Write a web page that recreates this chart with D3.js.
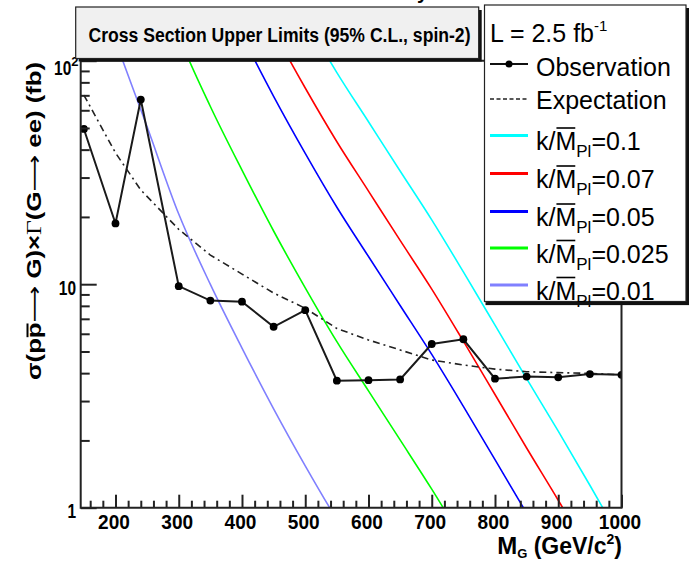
<!DOCTYPE html>
<html><head><meta charset="utf-8">
<script src="https://cdn.jsdelivr.net/npm/d3@7"></script>
<style>
body{margin:0;background:#fff}
svg{display:block;font-family:"Liberation Sans",Arial,sans-serif}
</style>
</head><body>
<svg id="c" width="693" height="562"></svg>
<script>
// ---------------- data ----------------
const obsMass = [150,200,240,300,350,400,450,500,550,600,650,700,750,800,850,900,950,1000];
const obsLimit = [49.5,18.7,67,9.8,8.45,8.35,6.45,7.65,3.70,3.72,3.75,5.40,5.67,3.78,3.86,3.83,3.96,3.93];
const expLimit = [70.2,38.7,26.4,17.6,13.5,11.1,9.13,7.8,6.34,5.63,5.08,4.58,4.35,4.17,4.06,4.02,3.99,3.93];

const thMass = [150,200,250,300,350,400,450,500,550,600,650,700,750,800,850,900,950,1000];
const sigK0100 = [31600,12300,5060,2060,998,518,277,154,88.5,53.3,32.1,19.4,11.35,6.56,3.78,2.20,1.26,0.713];
const sigK0070 = [15500,6030,2480,1010,489,254,136,75.5,43.4,26.1,15.7,9.51,5.56,3.21,1.85,1.08,0.617,0.349];
const sigK0050 = [7900,3080,1265,515,250,130,69.3,38.5,22.1,13.3,8.03,4.85,2.84,1.64,0.945,0.55,0.315,0.178];
const sigK0025 = [1975,769,316,129,62.4,32.4,17.3,9.63,5.53,3.33,2.01,1.21,0.709,0.41,0.236,0.1375,0.079,0.0446];
const sigK0010 = [316,123,50.6,20.6,9.98,5.18,2.77,1.54,0.885,0.533,0.321,0.194,0.1135,0.0656,0.0378,0.022,0.0126,0.00713];
const couplings = ["0.1","0.07","0.05","0.025","0.01"];
const theorySeries = [sigK0100,sigK0070,sigK0050,sigK0025,sigK0010];

const xTicks = [200,300,400,500,600,700,800,900,1000];
const xMinorTicks = [160,180,220,240,260,280,320,340,360,380,420,440,460,480,520,540,560,580,620,640,660,680,720,740,760,780,820,840,860,880,920,940,960,980];
const yTicks = [1,10,100];
const yTickLabels = ["1","10","10"];
const yTickSup = ["","","2"];
const yMinorTicks = [2,3,4,5,6,7,8,9,20,30,40,50,60,70,80,90];

const titleText = "Cross Section Upper Limits (95% C.L., spin-2)";
const lumiText = "L = 2.5 fb";

// ---------------- styles ----------------
const theoryColors = ["#00ffff","#ff0000","#0000ff","#00ff00","#8080ff"];
const X0 = 80.7, X1 = 621.5, YT = 60.7, YB = 507.7;

const svg = d3.select("#c");
svg.append("rect").attr("width",693).attr("height",562).attr("fill","#fff");

const x = d3.scaleLinear().domain([145,1000]).range([X0,X1]);
const y = d3.scaleLog().domain([1,100]).range([YB,YT]);

// remnant of a hidden title (as in the reference)
svg.append("text").attr("x",417).attr("y",-1).attr("font-weight","bold").attr("font-size",20).text("y");

svg.append("clipPath").attr("id","clip").append("rect")
  .attr("x",X0).attr("y",YT).attr("width",X1-X0).attr("height",YB-YT);
const plot = svg.append("g").attr("clip-path","url(#clip)");

// theory curves
const thLine = d3.line().x(d=>x(d[0])).y(d=>y(d[1])).curve(d3.curveMonotoneX);
theorySeries.forEach((s,i)=>{
  plot.append("path").datum(thMass.map((m,j)=>[m,s[j]]))
    .attr("d",thLine).attr("fill","none").attr("stroke",theoryColors[i]).attr("stroke-width",1.6);
});

// expectation
const pLine = d3.line().x(d=>x(d[0])).y(d=>y(d[1]));
plot.append("path").datum(obsMass.map((m,j)=>[m,expLimit[j]]))
  .attr("d",pLine).attr("fill","none").attr("stroke","#222").attr("stroke-width",1.6)
  .attr("stroke-dasharray","7,4,2,4");

// observation
const obs = obsMass.map((m,j)=>[m,obsLimit[j]]);
plot.append("path").datum(obs).attr("d",pLine).attr("fill","none")
  .attr("stroke","#1a1a1a").attr("stroke-width",2);
plot.selectAll("circle.obs").data(obs).join("circle").attr("class","obs")
  .attr("cx",d=>x(d[0])).attr("cy",d=>y(d[1])).attr("r",3.9).attr("fill","#000");

// axes
const axStyle = g=>{ g.select(".domain").remove(); g.selectAll(".tick line").attr("stroke","#222").attr("stroke-width",2); };
svg.append("g").attr("transform",`translate(0,${YB})`)
  .call(d3.axisBottom(x).tickValues(xMinorTicks).tickSize(-7).tickFormat("")).call(axStyle);
const xg = svg.append("g").attr("transform",`translate(0,${YB})`)
  .call(d3.axisBottom(x).tickValues(xTicks).tickSize(-13).tickPadding(6).tickFormat(d3.format("d"))).call(axStyle);
xg.selectAll(".tick text").attr("font-family","Liberation Sans, Arial, sans-serif")
  .attr("font-size",21).attr("font-weight","bold").attr("fill","#000")
  .attr("dx",-2)
  .attr("textLength",d=>String(d).length*10.6).attr("lengthAdjust","spacingAndGlyphs");

svg.append("g").attr("transform",`translate(${X0},0)`)
  .call(d3.axisLeft(y).tickValues(yMinorTicks).tickSize(-9).tickFormat("")).call(axStyle);
svg.append("g").attr("transform",`translate(${X0},0)`)
  .call(d3.axisLeft(y).tickValues(yTicks).tickSize(-16).tickFormat("")).call(axStyle);

// y tick labels
yTicks.forEach((v,i)=>{
  const t = svg.append("text").attr("text-anchor","end")
    .attr("x", yTickSup[i] ? 78.5 : 76).attr("y", y(v) + (yTickSup[i] ? 14 : 10.7))
    .attr("font-size",21).attr("font-weight","bold");
  t.append("tspan").text(yTickLabels[i])
    .attr("textLength",yTickLabels[i].length*8.6).attr("lengthAdjust","spacingAndGlyphs");
  if (yTickSup[i]) t.append("tspan").attr("font-size",13).attr("dy",-9).text(yTickSup[i]);
});

// frame
svg.append("path").attr("d",`M${X0},${YT}V${YB}H${X1}V${YT}Z`)
  .attr("fill","none").attr("stroke","#222").attr("stroke-width",2);

// axis titles
const yl = svg.append("g").attr("transform","translate(41,221) rotate(-90)");
const ylt = yl.append("text").attr("text-anchor","middle").attr("font-size",20).attr("font-weight","bold")
  .attr("textLength",318).attr("lengthAdjust","spacingAndGlyphs");
ylt.append("tspan").text("σ(pp");
ylt.append("tspan").attr("font-family","DejaVu Sans, sans-serif").attr("font-weight","normal").text("⟶");
ylt.append("tspan").text(" G)×");
ylt.append("tspan").attr("font-family","Liberation Serif, serif").attr("font-weight","normal").text("Γ");
ylt.append("tspan").text("(G");
ylt.append("tspan").attr("font-family","DejaVu Sans, sans-serif").attr("font-weight","normal").text("⟶");
ylt.append("tspan").text(" ee) (fb)");
{
  const s = ylt.node().getStartPositionOfChar(3), e = ylt.node().getEndPositionOfChar(3);
  yl.append("line").attr("x1",s.x+1).attr("x2",e.x-1).attr("y1",-13.5).attr("y2",-13.5)
    .attr("stroke","#000").attr("stroke-width",2);
}

const xl = svg.append("text").attr("text-anchor","end").attr("x",622).attr("y",554).attr("font-size",23);
xl.append("tspan").attr("font-weight","bold").attr("font-size",24).text("M");
xl.append("tspan").attr("font-size",13).attr("font-weight","bold").attr("dy",4).text("G");
xl.append("tspan").attr("dy",-4).attr("font-weight","bold").text(" (GeV/c");
xl.append("tspan").attr("font-size",14).attr("dy",-10).attr("font-weight","bold").text("2");
xl.append("tspan").attr("dy",10).attr("font-weight","bold").text(")");

// title box
svg.append("rect").attr("x",78.7).attr("y",10).attr("width",403).attr("height",51.5).attr("fill","#111");
svg.append("rect").attr("x",75.7).attr("y",7).attr("width",403).attr("height",51.5)
  .attr("fill","#f0f0f0").attr("stroke","#222").attr("stroke-width",1.2);
svg.append("text").attr("x",88.5).attr("y",41.5).attr("font-size",20).attr("font-weight","bold")
  .attr("textLength",382).attr("lengthAdjust","spacingAndGlyphs").text(titleText);

// legend
const LX = 484.5, LY = 5, LW = 201.5, LH = 296.5;
svg.append("rect").attr("x",LX+3).attr("y",LY+3).attr("width",LW).attr("height",LH).attr("fill","#111");
svg.append("rect").attr("x",LX).attr("y",LY).attr("width",LW).attr("height",LH)
  .attr("fill","#fff").attr("stroke","#222").attr("stroke-width",1.2);
const lg = svg.append("g").attr("font-size",25);
const lt = lg.append("text").attr("x",490).attr("y",42);
lt.append("tspan").text(lumiText);
lt.append("tspan").attr("font-size",15).attr("dy",-11).text("-1");

lg.append("line").attr("x1",490).attr("x2",528).attr("y1",64).attr("y2",64).attr("stroke","#111").attr("stroke-width",2);
lg.append("circle").attr("cx",509).attr("cy",64).attr("r",3.5).attr("fill","#000");
lg.append("text").attr("x",536).attr("y",76).text("Observation");

lg.append("line").attr("x1",490).attr("x2",528).attr("y1",99).attr("y2",99).attr("stroke","#222").attr("stroke-width",1.6).attr("stroke-dasharray","4,2.5");
lg.append("text").attr("x",536).attr("y",108.5).text("Expectation");

const legBase = [150,188,226,262.5,299.5];
couplings.forEach((c,i)=>{
  lg.append("line").attr("x1",490).attr("x2",528).attr("y1",legBase[i]-14.5).attr("y2",legBase[i]-14.5)
    .attr("stroke",theoryColors[i]).attr("stroke-width",3);
  const t = lg.append("text").attr("x",536).attr("y",legBase[i]);
  t.append("tspan").text("k/M");
  t.append("tspan").attr("font-size",17).attr("dy",7).text("Pl");
  t.append("tspan").attr("dy",-7).text("="+c);
  const s = t.node().getStartPositionOfChar(2), e = t.node().getEndPositionOfChar(2);
  lg.append("line").attr("x1",s.x+1).attr("x2",e.x-1).attr("y1",legBase[i]-22).attr("y2",legBase[i]-22)
    .attr("stroke","#000").attr("stroke-width",1.6);
});
// legend bottom edge covers subscript overflow, as in the reference
svg.append("rect").attr("x",LX+1).attr("y",LY+LH+0.6).attr("width",LW+2).attr("height",3).attr("fill","#111");
</script>
</body></html>
